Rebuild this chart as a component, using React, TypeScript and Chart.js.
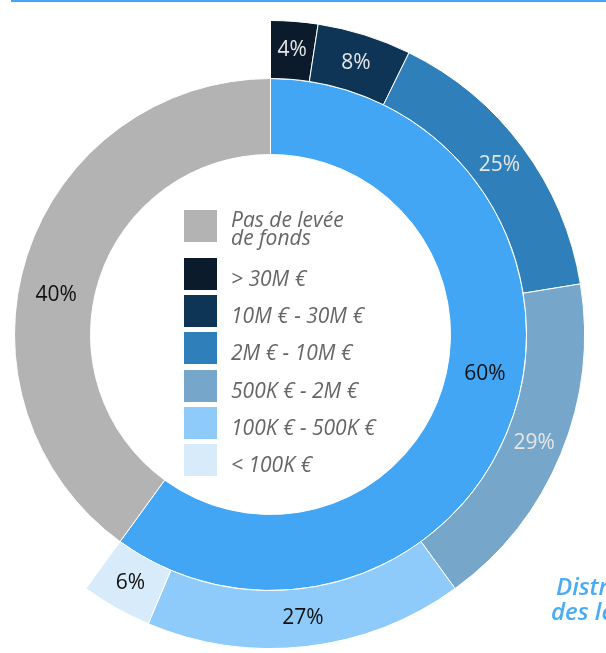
import React, { useEffect, useRef } from "react";
import { Chart, registerables } from "chart.js";

Chart.register(...registerables);

// ---- data ----
const innerLabels = ["Levée de fonds", "Pas de levée de fonds"];
const innerValues = [60, 40];
const innerColors = ["#42a6f5", "#b3b3b3"];
const innerTextColors = ["#111111", "#111111"];

const outerLabels = ["> 30M €", "10M € - 30M €", "2M € - 10M €", "500K € - 2M €", "100K € - 500K €", "< 100K €"];
const outerValues = [4, 8, 25, 29, 27, 6];
const outerColors = ["#0b1b2b", "#0f3556", "#2e7fba", "#76a7cb", "#8ecafa", "#d7ebfb"];
const outerTextColors = ["#e6e6e6", "#e6e6e6", "#e6e6e6", "#e6e6e6", "#111111", "#111111"];

const legendLabels = ["Pas de levée\nde fonds", ...outerLabels];
const legendColors = ["#b3b3b3", ...outerColors];

const titleLines = ["Distribution", "des levées de fonds"];

const pctPlugin = {
  id: "pctLabels",
  afterDatasetsDraw(chart: any, _args: any, opts: any) {
    const ctx = chart.ctx;
    chart.data.datasets.forEach((_ds: any, di: number) => {
      const meta = chart.getDatasetMeta(di);
      const texts = opts.texts[di] || [];
      const colors = opts.colors[di] || [];
      const shift = (opts.shifts[di] || 0) * Math.PI / 180;
      meta.data.forEach((arc: any, i: number) => {
        if (!texts[i]) return;
        const p = arc.getProps(["startAngle", "endAngle", "innerRadius", "outerRadius", "x", "y"], true);
        const a = (p.startAngle + p.endAngle) / 2 + shift;
        const r = (p.innerRadius + p.outerRadius) / 2;
        ctx.save();
        ctx.font = '21px "Open Sans"';
        ctx.fillStyle = colors[i];
        ctx.textAlign = "center";
        ctx.textBaseline = "middle";
        ctx.fillText(texts[i], p.x + r * Math.cos(a), p.y + r * Math.sin(a));
        ctx.restore();
      });
    });
  },
};

export default function App() {
  const ref = useRef<HTMLCanvasElement>(null);

  useEffect(() => {
    if (!ref.current) return;
    const outerSum = outerValues.reduce((s, v) => s + v, 0);
    const hidden = (outerSum * innerValues[1]) / innerValues[0];
    const chart = new Chart(ref.current, {
      type: "doughnut",
      data: {
        labels: [...outerLabels, ""],
        datasets: [
          {
            data: [...outerValues, hidden],
            backgroundColor: [...outerColors, "rgba(0,0,0,0)"],
            borderColor: "#ffffff",
            borderWidth: [...outerValues.map(() => 1), 0],
            weight: 58,
          },
          {
            data: innerValues,
            backgroundColor: innerColors,
            borderColor: "#ffffff",
            borderWidth: 1,
            weight: 76,
          },
        ],
      },
      options: {
        responsive: false,
        maintainAspectRatio: false,
        animation: false,
        events: [],
        cutout: 180,
        layout: { padding: 0 },
        plugins: {
          legend: { display: false },
          tooltip: { enabled: false },
          pctLabels: {
            texts: [outerValues.map((v) => `${v}%`), innerValues.map((v) => `${v}%`)],
            colors: [outerTextColors, innerTextColors],
            shifts: [0, -7.5],
          },
        } as any,
      },
      plugins: [pctPlugin],
    });
    return () => chart.destroy();
  }, []);

  const rowTops = [210, 258, 295, 332, 370, 407, 444];

  return (
    <div style={{ position: "fixed", left: 0, top: 0, width: 606, height: 653, overflow: "hidden", background: "#fff" }}>
      <div style={{ position: "absolute", left: 11, top: 0, width: 620, height: 2, background: "#42a5f5" }} />
      <canvas
        ref={ref}
        width={629}
        height={629}
        style={{ position: "absolute", left: -44, top: 20, width: 629, height: 629 }}
      />
      {legendLabels.map((lab, i) => (
        <React.Fragment key={i}>
          <div
            style={{
              position: "absolute",
              left: 184,
              top: rowTops[i],
              width: 33,
              height: 32,
              background: legendColors[i],
            }}
          />
          <div
            style={{
              position: "absolute",
              left: 231,
              top: i === 0 ? rowTops[i] : rowTops[i] + 4,
              fontFamily: '"Open Sans"',
              fontStyle: "italic",
              fontSize: 21,
              lineHeight: i === 0 ? "18px" : "32px",
              color: "#666666",
              whiteSpace: "pre",
            }}
          >
            {lab}
          </div>
        </React.Fragment>
      ))}
      <div
        style={{
          position: "absolute",
          left: 556,
          top: 574,
          fontFamily: '"Open Sans"',
          fontStyle: "italic",
          fontWeight: 600,
          fontSize: 24,
          lineHeight: "24px",
          color: "#4aacf5",
          whiteSpace: "pre",
        }}
      >
        {titleLines[0]}
      </div>
      <div
        style={{
          position: "absolute",
          left: 551,
          top: 599,
          fontFamily: '"Open Sans"',
          fontStyle: "italic",
          fontWeight: 600,
          fontSize: 24,
          lineHeight: "24px",
          color: "#4aacf5",
          whiteSpace: "pre",
        }}
      >
        {titleLines[1]}
      </div>
    </div>
  );
}
